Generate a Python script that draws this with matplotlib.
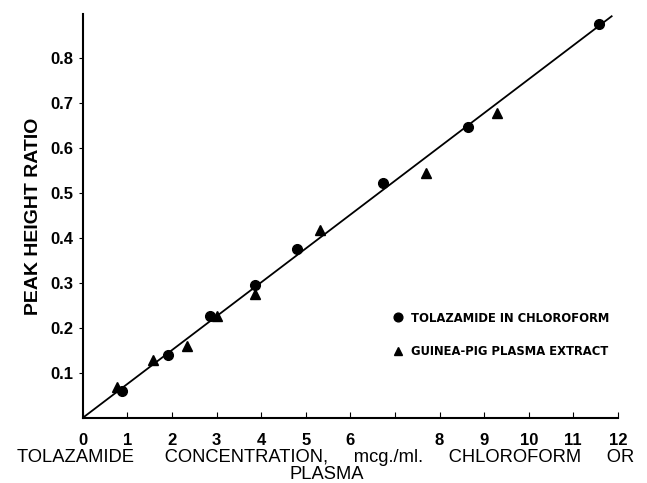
import matplotlib
matplotlib.use('Agg')
import matplotlib.pyplot as plt

# tolazamide in chloroform (circles)
chl_x = [0.87, 1.9, 2.85, 3.86, 4.8, 6.73, 8.63, 11.57]
chl_y = [0.060, 0.140, 0.227, 0.296, 0.376, 0.522, 0.647, 0.876]

# guinea-pig plasma extract (triangles)
pl_x = [0.76, 1.57, 2.33, 3.0, 3.86, 5.31, 7.69, 9.28]
pl_y = [0.069, 0.129, 0.160, 0.227, 0.276, 0.418, 0.544, 0.678]

# calibration line
fit_x = [0, 11.86]
fit_y = [0, 0.893]

x_ticks = [0, 1, 2, 3, 4, 5, 6, 7, 8, 9, 10, 11, 12]
x_labels = ['0', '1', '2', '3', '4', '5', '6', '', '8', '9', '10', '11', '12']
y_ticks = [0.1, 0.2, 0.3, 0.4, 0.5, 0.6, 0.7, 0.8]
y_labels = ['0.1', '0.2', '0.3', '0.4', '0.5', '0.6', '0.7', '0.8']


def main():
	plt.rcParams['font.family'] = ['Liberation Sans', 'DejaVu Sans']
	fig = plt.figure(figsize=(6.47, 4.83), dpi=100)
	ax = fig.add_axes([0.128, 0.135, 0.827, 0.836])

	ax.plot(fit_x, fit_y, color='black', lw=1.3)
	ax.plot(chl_x, chl_y, 'o', color='black', ms=7, label='TOLAZAMIDE IN CHLOROFORM')
	ax.plot(pl_x, pl_y, '^', color='black', ms=7, label='GUINEA-PIG PLASMA EXTRACT')

	ax.set_xlim(0, 12)
	ax.set_ylim(0, 0.898)
	ax.spines['top'].set_visible(False)
	ax.spines['right'].set_visible(False)
	ax.spines['left'].set_linewidth(1.5)
	ax.spines['bottom'].set_linewidth(1.5)

	ax.set_xticks(x_ticks)
	ax.set_xticklabels(x_labels, fontsize=12, fontweight='bold')
	ax.set_yticks(y_ticks)
	ax.set_yticklabels(y_labels, fontsize=12, fontweight='bold')
	ax.tick_params(axis='x', direction='in', length=4, pad=11)
	ax.tick_params(axis='y', direction='out', length=3, pad=4)

	ax.set_ylabel('PEAK HEIGHT RATIO', fontsize=14, fontweight='bold', labelpad=6)
	fig.text(0.504, 0.052, 'TOLAZAMIDE      CONCENTRATION,     mcg./ml.     CHLOROFORM     OR',
		ha='center', va='center', fontsize=13.2)
	fig.text(0.505, 0.018, 'PLASMA', ha='center', va='center', fontsize=13.2)

	ax.legend(loc='center left', bbox_to_anchor=(0.555, 0.205), frameon=False,
		handletextpad=0.5, labelspacing=1.6, handlelength=1.0, markerscale=0.9,
		prop={'family': 'DejaVu Sans', 'stretch': 'condensed', 'weight': 'bold', 'size': 9.3})

	fig.savefig('out.png', dpi=100)


if __name__ == '__main__':
	main()
